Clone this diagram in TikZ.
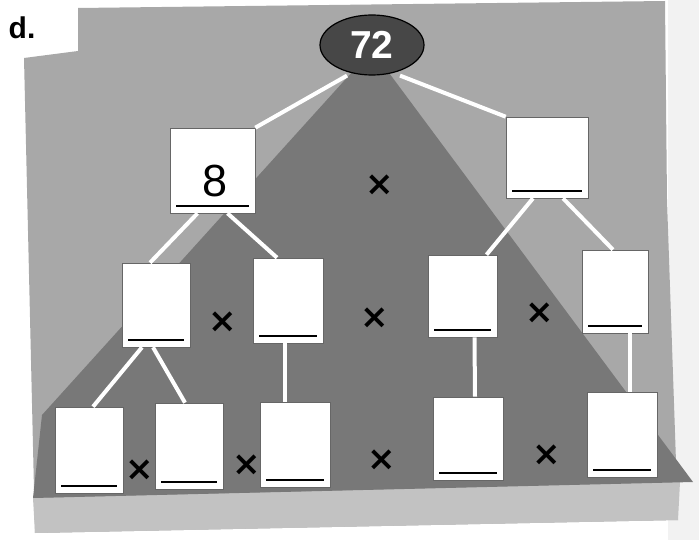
\documentclass[tikz,border=0pt]{standalone}
\usepackage{fontspec}
\setmainfont{Liberation Sans}
\newfontfamily\symfont{DejaVu Sans}
\usetikzlibrary{shapes.geometric}
\definecolor{panelgray}{gray}{0.66}
\definecolor{darkgray2}{gray}{0.47}
\definecolor{floorgray}{gray}{0.76}
\definecolor{ovalgray}{gray}{0.28}
\begin{document}
\begin{tikzpicture}[x=1pt,y=-1pt,
  answerbox/.style={draw=black!60,line width=0.6pt,fill=white,inner sep=0pt,
    path picture={\draw[black,line width=2.6pt]
      ([xshift=6pt,yshift=7pt]path picture bounding box.south west) --
      ([xshift=-6pt,yshift=7pt]path picture bounding box.south east);}},
  conn/.style={draw=white,line width=4pt},
  times/.style={font=\symfont\bfseries\fontsize{34}{34}\selectfont,inner sep=0pt},
  numlabel/.style={font=\fontsize{45}{45}\selectfont,inner sep=0pt}
]
\useasboundingbox (0,0) rectangle (699,540);
\fill[white] (0,0) rectangle (699,540);
\fill[gray!10] (668,0) rectangle (699,540);
% panel
\fill[panelgray] (78,8) -- (665,1) -- (667,200) -- (678,520) -- (35,533) -- (24,58) -- (78,51) -- cycle;
% lower light strip
\fill[floorgray] (33,498) -- (680,482) -- (678,520) -- (35,533) -- cycle;
% dark triangle and floor band
\fill[darkgray2] (372,50) -- (693,482) -- (33,498) -- (42,415) -- cycle;
% title
\node[font=\bfseries\fontsize{30}{30}\selectfont,inner sep=0pt] (title) at (22,28) {d.};
% nodes
\node[ellipse,fill=ovalgray,draw=black,line width=1.2pt,minimum width=104pt,minimum height=60pt,
  text=white,font=\bfseries\fontsize{39}{39}\selectfont,inner sep=0pt] (top) at (372,45) {72};
\node[answerbox,minimum width=85pt,minimum height=85pt] (b8) at (212.5,170.5) {};
\node[answerbox,minimum width=82pt,minimum height=81pt] (br) at (547,157.5) {};
\node[answerbox,minimum width=68pt,minimum height=84pt] (ba) at (156,305) {};
\node[answerbox,minimum width=70pt,minimum height=85pt] (bb) at (288,300.5) {};
\node[answerbox,minimum width=69pt,minimum height=82pt] (bc) at (462.5,296) {};
\node[answerbox,minimum width=66pt,minimum height=83pt] (bd) at (615,291.5) {};
\node[answerbox,minimum width=68pt,minimum height=86pt] (e1) at (89,450) {};
\node[answerbox,minimum width=68pt,minimum height=86pt] (e2) at (189,446) {};
\node[answerbox,minimum width=70pt,minimum height=85pt] (e3) at (295,444.5) {};
\node[answerbox,minimum width=70pt,minimum height=83pt] (e4) at (468,438.5) {};
\node[answerbox,minimum width=70pt,minimum height=85pt] (e5) at (622,434.5) {};
\node[numlabel] (n8) at (215,181) {8};
% connectors
\path[conn] ([xshift=-25pt]top.south) -- (b8.north east);
\path[conn] ([xshift=28pt]top.south) -- (br.north west);
\path[conn] ([xshift=-15pt]b8.south) -- ([xshift=-6pt]ba.north);
\path[conn] ([xshift=15pt]b8.south) -- ([xshift=-11pt]bb.north);
\path[conn] ([xshift=-14pt]br.south) -- ([xshift=24pt]bc.north);
\path[conn] ([xshift=16pt]br.south) -- ([xshift=-2pt]bd.north);
\path[conn] ([xshift=-14pt]ba.south) -- ([xshift=4pt]e1.north);
\path[conn] ([xshift=-3pt]ba.south) -- ([xshift=-4pt]e2.north);
\path[conn] ([xshift=-3pt]bb.south) -- ([xshift=-10pt]e3.north);
\path[conn] ([xshift=12pt]bc.south) -- ([xshift=7pt]e4.north);
\path[conn] ([xshift=15pt]bd.south) -- ([xshift=8pt]e5.north);
% multiplication signs
\node[times] (x1) at (380,185) {×};
\node[times] (x2) at (223,322) {×};
\node[times] (x3) at (375,318) {×};
\node[times] (x4) at (540,313) {×};
\node[times] (x5) at (140,470) {×};
\node[times] (x6) at (247,465) {×};
\node[times] (x7) at (382,460) {×};
\node[times] (x8) at (547,455) {×};
\end{tikzpicture}
\end{document}
